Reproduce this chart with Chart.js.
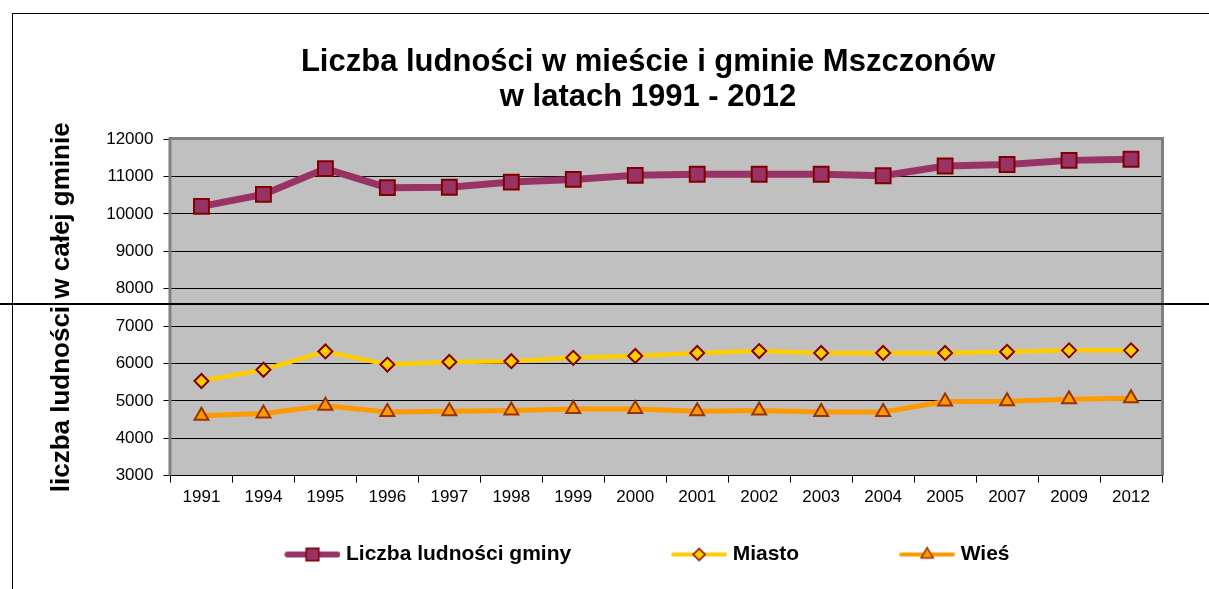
<!DOCTYPE html>
<html>
<head>
<meta charset="utf-8">
<script src="https://cdn.jsdelivr.net/npm/chart.js@4.4.1/dist/chart.umd.min.js"></script>
<style>
  html, body { margin: 0; padding: 0; background: #fff; overflow: hidden; }
  #wrap { position: absolute; left: 0; top: 0; width: 1209px; height: 589px; }
  #frame { position: absolute; left: 12px; top: 13px; width: 1197px; height: 576px;
           border-top: 1px solid #000; border-left: 1px solid #000; pointer-events: none; }
  #cut { position: absolute; left: 0; top: 303px; width: 1209px; height: 2px; background: #000; }
</style>
</head>
<body>
<div id="wrap"><canvas id="chart"></canvas></div>
<div id="frame"></div>
<div id="cut"></div>
<script>
// DATA
const years = ["1991", "1994", "1995", "1996", "1997", "1998", "1999", "2000",
               "2001", "2002", "2003", "2004", "2005", "2007", "2009", "2012"];
const gmina  = [10200, 10520, 11210, 10700, 10710, 10850, 10920, 11030,
                11060, 11060, 11060, 11020, 11280, 11320, 11430, 11460];
const miasto = [5530, 5830, 6320, 5970, 6040, 6060, 6150, 6200,
                6280, 6330, 6280, 6280, 6280, 6310, 6350, 6350];
const wies   = [4600, 4660, 4870, 4700, 4720, 4740, 4780, 4780,
                4720, 4740, 4700, 4700, 4980, 4990, 5040, 5070];
const seriesNames = ["Liczba ludności gminy", "Miasto", "Wieś"];
const yMin = 3000, yMax = 12000, yStep = 1000;

const sans = "'Liberation Sans', Arial, sans-serif";
const tickFont = { family: sans, size: 17 };

// legend sample: line with marker, drawn to a small canvas
function legendIcon(color, lineW, style, radius, border) {
  const c = document.createElement("canvas");
  c.width = 151; c.height = 24;
  const g = c.getContext("2d");
  g.strokeStyle = color;
  g.lineWidth = lineW;
  g.lineCap = "round";
  g.beginPath();
  g.moveTo(95 + lineW / 2, 12);
  g.lineTo(151 - lineW / 2, 12);
  g.stroke();
  g.fillStyle = color;
  g.strokeStyle = border;
  g.lineWidth = 1.5;
  Chart.helpers.drawPoint(g, { pointStyle: style, radius: radius, rotation: 0, borderWidth: 1.5 }, 123, 12);
  return c;
}
const icons = [
  legendIcon("#993366", 6, "rect", 9, "#800000"),
  legendIcon("#FFCC00", 4, "rectRot", 6, "#800000"),
  legendIcon("#FF9900", 4, "triangle", 7, "#993300")
];

// grey plot area with darker frame (left, top, right)
const plotFrame = {
  id: "plotFrame",
  beforeDraw(chart) {
    const { ctx, chartArea: a } = chart;
    ctx.save();
    ctx.fillStyle = "#C0C0C0";
    ctx.fillRect(a.left, a.top, a.right - a.left, a.bottom - a.top);
    ctx.restore();
  },
  beforeDatasetsDraw(chart) {
    const { ctx, chartArea: a } = chart;
    ctx.save();
    ctx.strokeStyle = "#808080";
    ctx.lineWidth = 3;
    ctx.beginPath();
    ctx.moveTo(a.left - 0.5, a.bottom);
    ctx.lineTo(a.left - 0.5, a.top - 0.5);
    ctx.lineTo(a.right + 0.5, a.top - 0.5);
    ctx.lineTo(a.right + 0.5, a.bottom);
    ctx.stroke();
    ctx.restore();
  }
};

// the title sits a bit right of the full-width centre
const shiftTitle = {
  id: "shiftTitle",
  afterLayout(chart) {
    const t = chart.titleBlock;
    if (!t) return;
    const dx = 648 - (t.left + t.right) / 2;
    t.left += dx;
    t.right += dx;
  }
};

new Chart(document.getElementById("chart"), {
  type: "line",
  data: {
    labels: years,
    datasets: [{
      label: seriesNames[0],
      data: gmina,
      borderColor: "#993366",
      borderWidth: 7,
      pointStyle: "rect",
      pointRadius: 10.5,
      pointBackgroundColor: "#993366",
      pointBorderColor: "#800000",
      pointBorderWidth: 2,
      tension: 0
    }, {
      label: seriesNames[1],
      data: miasto,
      borderColor: "#FFCC00",
      borderWidth: 4.5,
      pointStyle: "rectRot",
      pointRadius: 7,
      pointBackgroundColor: "#FFCC00",
      pointBorderColor: "#800000",
      pointBorderWidth: 2,
      tension: 0
    }, {
      label: seriesNames[2],
      data: wies,
      borderColor: "#FF9900",
      borderWidth: 5,
      pointStyle: "triangle",
      pointRadius: 8,
      pointBackgroundColor: "#FF9900",
      pointBorderColor: "#993300",
      pointBorderWidth: 2,
      tension: 0
    }]
  },
  options: {
    responsive: true,
    maintainAspectRatio: false,
    animation: false,
    layout: { padding: { left: 42, right: 47, top: 0, bottom: 14 } },
    plugins: {
      title: {
        display: true,
        text: ["Liczba ludności w mieście i gminie Mszczonów", "w latach 1991 - 2012"],
        color: "#000",
        font: { family: sans, size: 31, weight: "bold", lineHeight: 1.13 },
        padding: { top: 45, bottom: 24 }
      },
      legend: {
        position: "bottom",
        labels: {
          usePointStyle: true,
          pointStyleWidth: 141,
          padding: 10,
          color: "#000",
          font: { family: sans, size: 21, weight: "bold" },
          generateLabels: chart => chart.data.datasets.map((ds, i) => ({
            text: ds.label,
            pointStyle: icons[i],
            datasetIndex: i,
            hidden: false,
            fontColor: "#000",
            lineWidth: 0,
            strokeStyle: "transparent",
            fillStyle: "transparent"
          }))
        }
      },
      tooltip: { enabled: false }
    },
    scales: {
      x: {
        offset: true,
        grid: { offset: true, drawOnChartArea: false, drawTicks: true, tickLength: 7, color: "#000" },
        border: { color: "#000", width: 1 },
        ticks: { color: "#000", font: tickFont, padding: 5, maxRotation: 0, autoSkip: false },
        afterFit: s => { s.height += 21; }
      },
      y: {
        min: yMin,
        max: yMax,
        ticks: { stepSize: yStep, color: "#000", font: tickFont, padding: 10, callback: v => String(v) },
        grid: { color: "#000", lineWidth: 1, tickLength: 7 },
        border: { display: false },
        title: {
          display: true,
          text: "liczba ludności w całej gminie",
          color: "#000",
          font: { family: sans, size: 26, weight: "bold" },
          padding: { top: 4, bottom: 19 }
        }
      }
    }
  },
  plugins: [plotFrame, shiftTitle]
});
</script>
</body>
</html>
